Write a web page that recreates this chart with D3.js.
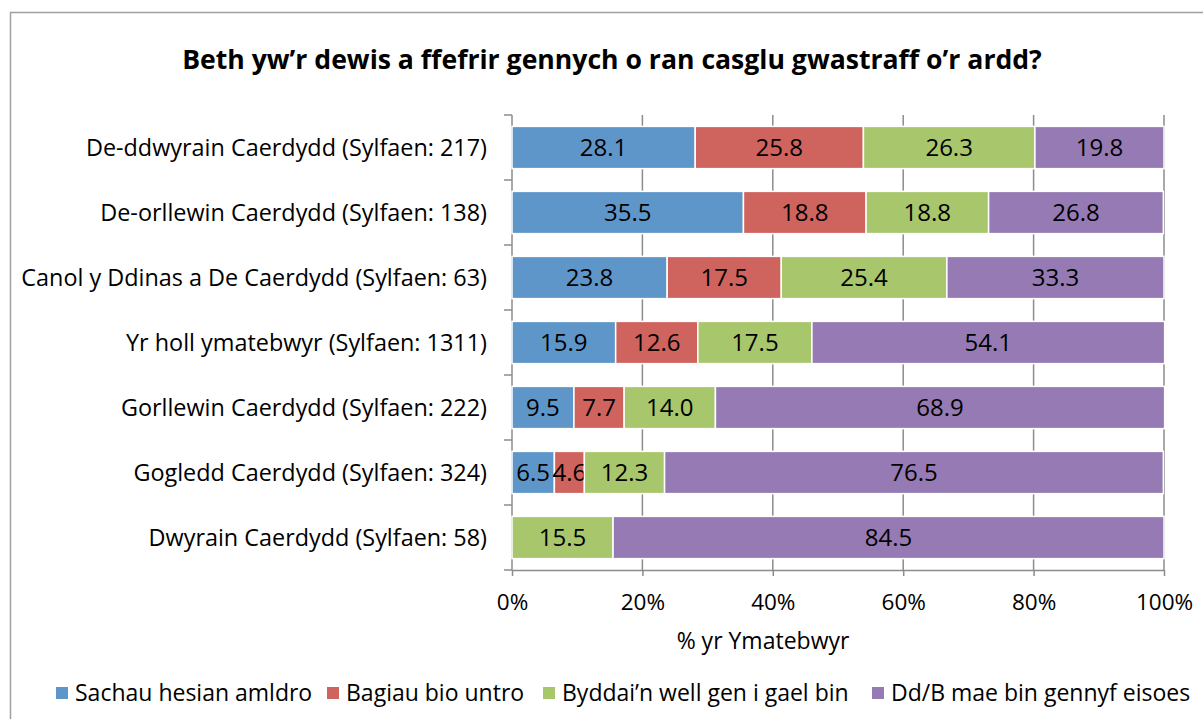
<!DOCTYPE html>
<html>
<head>
<meta charset="utf-8">
<script src="https://cdn.jsdelivr.net/npm/d3@7"></script>
<style>
  body { margin: 0; background: #fff; }
  text { font-family: "Open Sans", sans-serif; }
</style>
</head>
<body>
<svg id="chart"></svg>
<script>
// data, top row first
var regions = [
  "De-ddwyrain Caerdydd (Sylfaen: 217)",
  "De-orllewin Caerdydd (Sylfaen: 138)",
  "Canol y Ddinas a De Caerdydd (Sylfaen: 63)",
  "Yr holl ymatebwyr (Sylfaen: 1311)",
  "Gorllewin Caerdydd (Sylfaen: 222)",
  "Gogledd Caerdydd (Sylfaen: 324)",
  "Dwyrain Caerdydd (Sylfaen: 58)"
];
var seriesNames = ["Sachau hesian amldro", "Bagiau bio untro", "Byddai\u2019n well gen i gael bin", "Dd/B mae bin gennyf eisoes"];
var sachau = [28.1, 35.5, 23.8, 15.9, 9.5, 6.5, 0];
var bagiau = [25.8, 18.8, 17.5, 12.6, 7.7, 4.6, 0];
var bin    = [26.3, 18.8, 25.4, 17.5, 14.0, 12.3, 15.5];
var eisoes = [19.8, 26.8, 33.3, 54.1, 68.9, 76.5, 84.5];
var xTicks = [0, 20, 40, 60, 80, 100];

var colors = ["#5f96ca", "#cf635e", "#a8c66b", "#957ab3"];

var W = 1203, H = 719;
var margin = {top: 115, right: 39, bottom: 149, left: 512};
var width = W - margin.left - margin.right,
    height = H - margin.top - margin.bottom;

var svg = d3.select("#chart").attr("width", W).attr("height", H);

// chart border
svg.append("rect")
    .attr("x", 10.5).attr("y", 12.5)
    .attr("width", 1210).attr("height", 720)
    .style("fill", "none").style("stroke", "#a0a0a0").style("stroke-width", 1.5);

svg.append("text")
    .attr("x", 612).attr("y", 60).attr("dy", "0.35em")
    .attr("text-anchor", "middle")
    .style("font-size", "26.6px").style("font-weight", "bold")
    .text("Beth yw\u2019r dewis a ffefrir gennych o ran casglu gwastraff o\u2019r ardd?");

var table = regions.map(function(r, i) {
  return {region: r, vals: [sachau[i], bagiau[i], bin[i], eisoes[i]]};
});

var x = d3.scaleLinear().domain([0, 100]).range([0, width]);
var y = d3.scaleBand().domain(regions).range([0, height]).paddingInner(0.35).paddingOuter(0.175);

var g = svg.append("g").attr("transform", "translate(" + margin.left + "," + margin.top + ")");

// vertical gridlines
g.selectAll(".grid")
    .data(xTicks.slice(1))
  .enter().append("line")
    .attr("x1", function(d) { return x(d); }).attr("x2", function(d) { return x(d); })
    .attr("y1", 0).attr("y2", height)
    .style("stroke", "#8c8c8c").style("stroke-width", 1.5);

var xAxis = d3.axisBottom(x).tickValues(xTicks).tickFormat(function(d) { return d + "%"; })
    .tickSizeInner(6).tickSizeOuter(0).tickPadding(18);
var gx = g.append("g").attr("transform", "translate(0," + height + ")").call(xAxis);
gx.select(".domain").style("stroke", "#8c8c8c").style("stroke-width", 1.5);
gx.selectAll(".tick line").style("stroke", "#8c8c8c").style("stroke-width", 1.5);
gx.selectAll(".tick text").style("font-size", "22.5px").style("fill", "#000").style("font-family", "Open Sans");

// y axis: line plus ticks at category boundaries
var bounds = d3.range(regions.length + 1).map(function(i) { return i * height / regions.length; });
g.append("line").attr("x1", 0).attr("x2", 0).attr("y1", 0).attr("y2", height)
    .style("stroke", "#8c8c8c").style("stroke-width", 1.5);
g.selectAll(".ytick")
    .data(bounds)
  .enter().append("line")
    .attr("x1", -8).attr("x2", 0)
    .attr("y1", function(d) { return d; }).attr("y2", function(d) { return d; })
    .style("stroke", "#8c8c8c").style("stroke-width", 1.5);

g.selectAll(".ylab")
    .data(regions)
  .enter().append("text")
    .attr("x", -25)
    .attr("y", function(d) { return y(d) + y.bandwidth() / 2; })
    .attr("dy", "0.35em")
    .attr("text-anchor", "end")
    .style("font-size", "23.4px")
    .text(function(d) { return d; });

// stacked bars
var rows = g.selectAll(".row")
    .data(table)
  .enter().append("g")
    .attr("transform", function(d) { return "translate(0," + y(d.region) + ")"; });

rows.each(function(d) {
  var cum = 0;
  var segs = d.vals.map(function(v, i) {
    var s = {start: cum, val: v, i: i};
    cum += v;
    return s;
  });
  var sel = d3.select(this).selectAll("g").data(segs).enter().append("g");
  sel.append("rect")
      .attr("x", function(s) { return x(s.start); })
      .attr("width", function(s) { return x(s.val) - x(0); })
      .attr("height", y.bandwidth())
      .style("fill", function(s) { return colors[s.i]; })
      .style("stroke", function(s) { return s.val > 0 ? "#fff" : "none"; })
      .style("stroke-width", 1.5);
  sel.filter(function(s) { return s.val > 0; }).append("text")
      .attr("x", function(s) { return x(s.start + s.val / 2); })
      .attr("y", y.bandwidth() / 2)
      .attr("dy", "0.35em")
      .attr("text-anchor", "middle")
      .style("font-size", "24px")
      .text(function(s) { return s.val.toFixed(1); });
});

svg.append("text")
    .attr("x", 763).attr("y", 641).attr("dy", "0.35em")
    .attr("text-anchor", "middle")
    .style("font-size", "23px")
    .text("% yr Ymatebwyr");

// legend
var legX = [56, 327, 543, 872];
var leg = svg.selectAll(".leg")
    .data(seriesNames)
  .enter().append("g")
    .attr("transform", function(d, i) { return "translate(" + legX[i] + ",687)"; });
leg.append("rect").attr("width", 12).attr("height", 12)
    .style("fill", function(d, i) { return colors[i]; });
leg.append("text").attr("x", 19).attr("y", 6).attr("dy", "0.35em")
    .style("font-size", "23px")
    .text(function(d) { return d; });
</script>
</body>
</html>
